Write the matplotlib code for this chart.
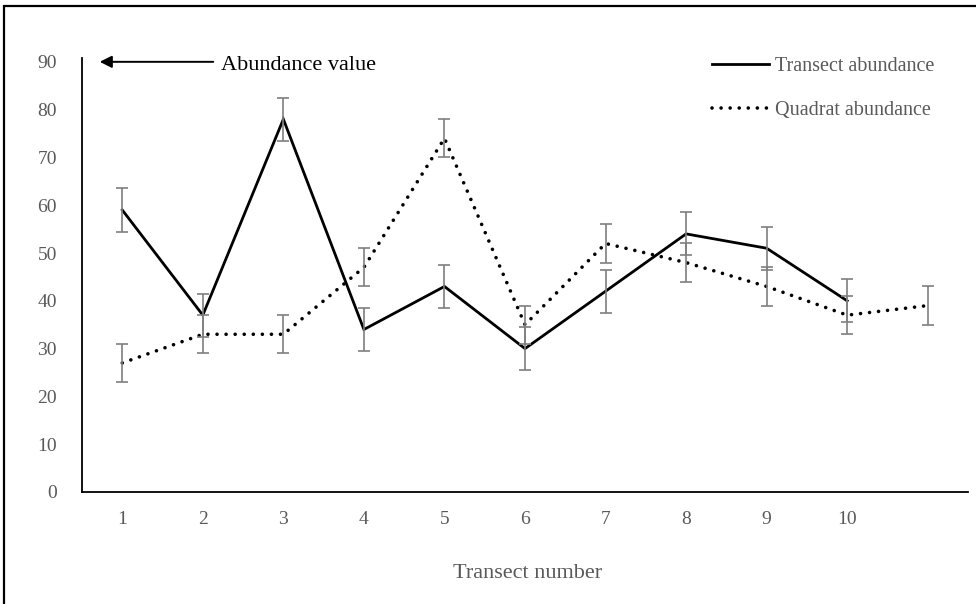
import matplotlib
matplotlib.use("Agg")
import matplotlib.pyplot as plt
from matplotlib.lines import Line2D
from matplotlib.patches import Rectangle

# ---- data ----
transect_x = [1, 2, 3, 4, 5, 6, 7, 8, 9, 10]
transect_abundance = [59, 37, 78, 34, 43, 30, 42, 54, 51, 40]
transect_err = [4.5] * 10

quadrat_x = [1, 2, 3, 4, 5, 6, 7, 8, 9, 10, 11]
quadrat_abundance = [27, 33, 33, 47, 74, 35, 52, 48, 43, 37, 39]
quadrat_err = [4] * 11

x_ticks = [1, 2, 3, 4, 5, 6, 7, 8, 9, 10]
y_ticks = [0, 10, 20, 30, 40, 50, 60, 70, 80, 90]

plt.rcParams['font.family'] = ['Liberation Serif', 'DejaVu Serif']

W, H = 976, 604
fig = plt.figure(figsize=(W / 100, H / 100), dpi=100)
fig.patch.set_facecolor('white')

# outer frame (left & top visible)
fig.add_artist(Rectangle((4 / W, -0.05), 1.2, 1 - 6 / H + 0.05, transform=fig.transFigure,
                         fill=False, edgecolor='black', linewidth=1.6))

ax = fig.add_axes([82 / W, 1 - 492 / H, (968 - 82) / W, (492 - 58) / H])
ax.set_xlim(0.5, 11.5)
ax.set_ylim(0, 90.8)

gray_txt = '#595959'
err_col = '#7f7f7f'
dot_style = (0, (0.01, 2.5))

ax.plot(transect_x, transect_abundance, color='black', lw=2.0, solid_joinstyle='miter', zorder=3)
ax.plot(quadrat_x, quadrat_abundance, color='black', lw=2.6, linestyle=dot_style,
        dash_capstyle='round', zorder=3)

ax.errorbar(transect_x, transect_abundance, yerr=transect_err, fmt='none', ecolor=err_col,
            elinewidth=1.2, capsize=4.3, capthick=1.2, zorder=4)
ax.errorbar(quadrat_x, quadrat_abundance, yerr=quadrat_err, fmt='none', ecolor=err_col,
            elinewidth=1.2, capsize=4.3, capthick=1.2, zorder=4)

for s in ['top', 'right']:
    ax.spines[s].set_visible(False)
for s in ['left', 'bottom']:
    ax.spines[s].set_color('black')
    ax.spines[s].set_linewidth(1.3)

ax.set_xticks(x_ticks)
ax.set_xticklabels([str(v) for v in x_ticks])
ax.set_yticks(y_ticks)
ax.set_yticklabels([str(v) for v in y_ticks])
ax.tick_params(axis='both', length=0, labelsize=14, labelcolor=gray_txt)
ax.tick_params(axis='x', pad=14)
ax.tick_params(axis='y', pad=18)

fig.text(528 / W, 1 - 573 / H, 'Transect number', ha='center', va='center',
         fontsize=16, color=gray_txt)

# arrow annotation
ax.annotate('', xy=(0.72, 90), xytext=(2.13, 90),
            arrowprops=dict(arrowstyle='-|>', lw=1.4, color='black', mutation_scale=18,
                            shrinkA=0, shrinkB=0),
            annotation_clip=False)
ax.text(2.23, 89.2, 'Abundance value', ha='left', va='center', fontsize=16, color='black')

handles = [Line2D([], [], color='black', lw=2.0),
           Line2D([], [], color='black', lw=2.6, linestyle=dot_style, dash_capstyle='round')]
leg = fig.legend(handles, ['Transect abundance', 'Quadrat abundance'],
                 loc='upper left', bbox_to_anchor=(712 / W, 1 - 57 / H),
                 bbox_transform=fig.transFigure, frameon=False, fontsize=14.5,
                 handlelength=2.85, handletextpad=0.3, labelspacing=1.25,
                 borderpad=0, borderaxespad=0, labelcolor=gray_txt)

fig.savefig('out.png', dpi=100, facecolor='white')
